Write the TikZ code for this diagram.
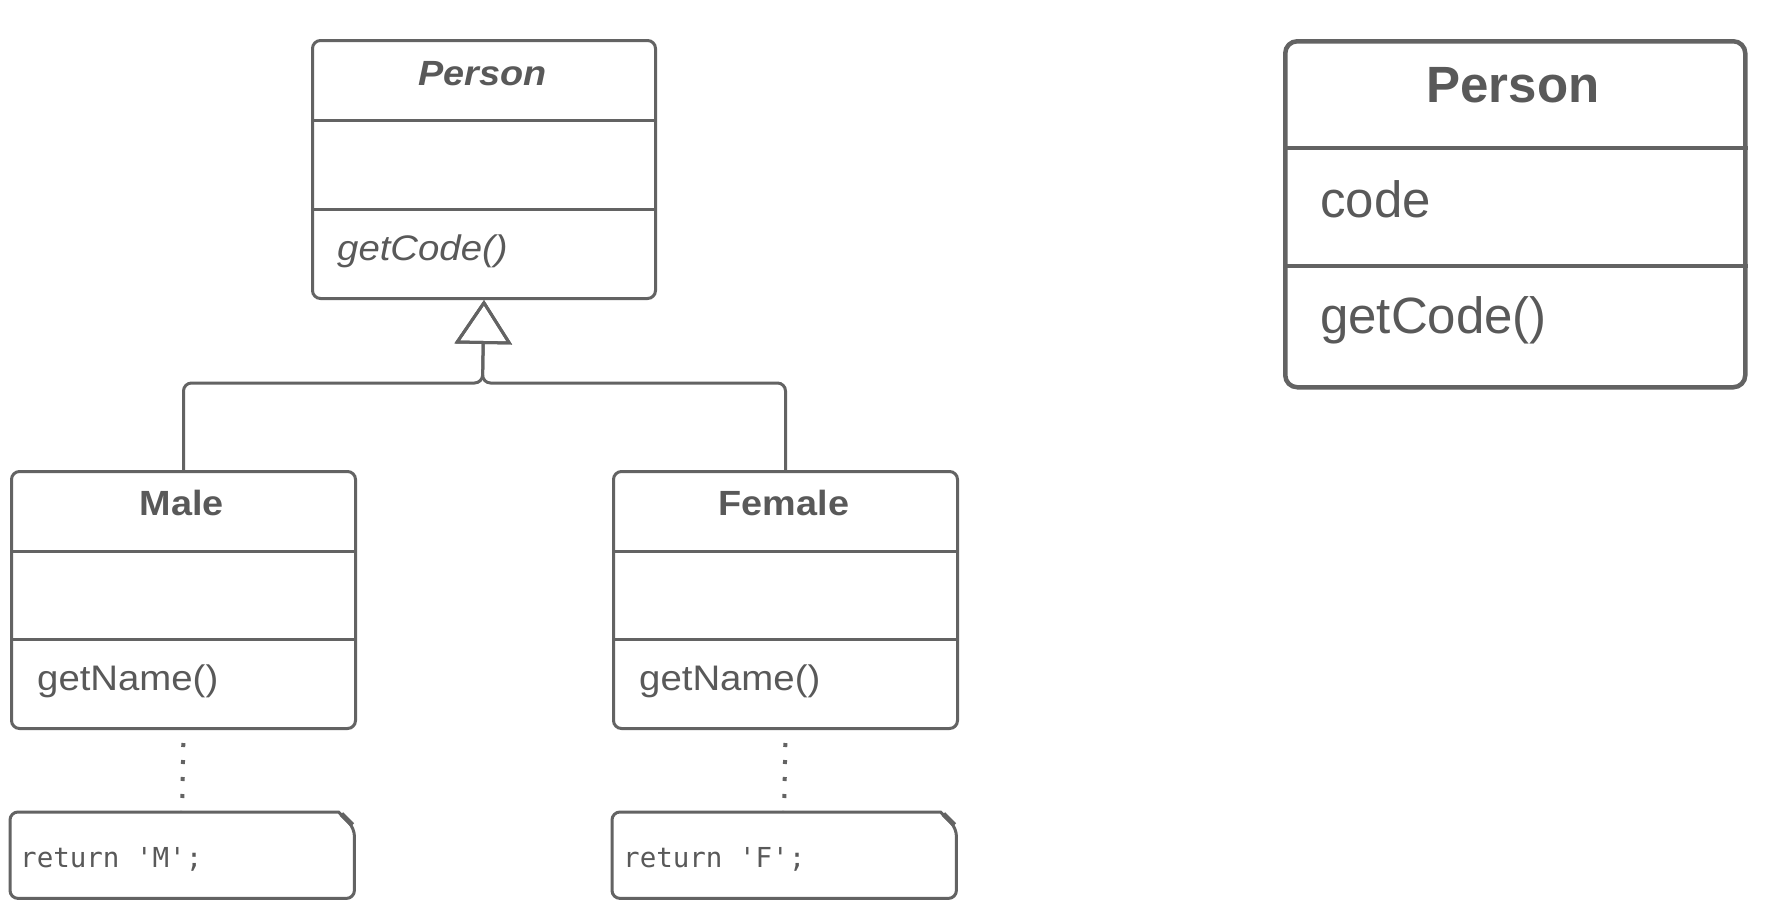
\documentclass[tikz,border=0pt]{standalone}
\usepackage{fontspec}
\setmainfont{Liberation Sans}
\newfontfamily\leftfont[FakeStretch=1.08]{Liberation Sans}
\setmonofont{DejaVu Sans Mono}
\usetikzlibrary{arrows.meta,calc}
\definecolor{lc}{RGB}{99,99,99}
\definecolor{tc}{RGB}{89,89,89}
\begin{document}
\begin{tikzpicture}[x=1pt,y=-1pt,
  classbox/.style={draw=lc, line width=3pt, rounded corners=8pt, inner sep=0pt, anchor=north west, fill=white},
  bigbox/.style={classbox, line width=4.5pt, rounded corners=12pt},
  div/.style={draw=lc, line width=3pt},
  bigdiv/.style={draw=lc, line width=4.5pt},
  titletext/.style={text=tc, anchor=base, inner sep=0pt, font=\leftfont\fontsize{35}{40}\selectfont\bfseries},
  methtext/.style={text=tc, anchor=base west, inner sep=0pt, font=\leftfont\fontsize{35.5}{42}\selectfont},
  bigtitle/.style={text=tc, anchor=base, inner sep=0pt, font=\fontsize{51}{60}\selectfont\bfseries},
  bigtext/.style={text=tc, anchor=base west, inner sep=0pt, font=\fontsize{51}{60}\selectfont},
  codetext/.style={text=tc, anchor=base west, inner sep=0pt, font=\fontsize{27.5}{30}\selectfont\ttfamily},
  notebox/.style={draw=none, inner sep=0pt, anchor=north west, minimum width=344pt, minimum height=86pt},
  noteline/.style={draw=lc, line width=3pt, rounded corners=8pt},
  gen/.style={draw=lc, line width=3pt, rounded corners=8pt, -{Triangle[open, length=44pt, width=57pt]}},
  dotl/.style={draw=lc, line width=4pt, dash pattern=on 4pt off 13pt, dash phase=4pt}
]
\fill[white] (0,0) rectangle (1772,918);
\useasboundingbox (0,0) rectangle (1772,918);

% abstract Person
\node[classbox, minimum width=343pt, minimum height=258pt] (person) at (311,39) {};
\draw[div] (person.west |- 0,120) -- (person.east |- 0,120);
\draw[div] (person.west |- 0,209) -- (person.east |- 0,209);
\node[titletext, font=\leftfont\fontsize{35}{40}\selectfont\bfseries\itshape] (ptitle) at (482.5,85) {Person};
\node[methtext, font=\leftfont\fontsize{35.5}{42}\selectfont\itshape] (pmeth) at (337,260) {getCode()};

% Male
\node[classbox, minimum width=344pt, minimum height=257pt] (male) at (10,470) {};
\draw[div] (male.west |- 0,551) -- (male.east |- 0,551);
\draw[div] (male.west |- 0,639) -- (male.east |- 0,639);
\node[titletext] (mtitle) at (182,515) {Male};
\node[methtext] (mmeth) at (37,690) {getName()};

% Female
\node[classbox, minimum width=344pt, minimum height=257pt] (female) at (612,470) {};
\draw[div] (female.west |- 0,551) -- (female.east |- 0,551);
\draw[div] (female.west |- 0,639) -- (female.east |- 0,639);
\node[titletext] (ftitle) at (784,515) {Female};
\node[methtext] (fmeth) at (639,690) {getName()};

% generalization
\coordinate (jn) at (482.5,383);
\draw[gen] (male.north) -- (male.north |- jn) -- (jn) -- (person.south);
\draw[gen] (female.north) -- (female.north |- jn) -- (jn) -- (person.south);

% notes
\node[notebox] (mnote) at (10,812) {};
\draw[noteline] ($(mnote.north east)+(-16,0)$) -- (mnote.north west) -- (mnote.south west) -- (mnote.south east) -- ($(mnote.north east)+(0,16)$) [sharp corners] -- cycle;
\draw[lc, line width=5pt] ($(mnote.north east)+(-13,2)$) -- ($(mnote.north east)+(-2,13)$);
\node[codetext] (mcode) at (20,867) {return 'M';};

\node[notebox] (fnote) at (612,812) {};
\draw[noteline] ($(fnote.north east)+(-16,0)$) -- (fnote.north west) -- (fnote.south west) -- (fnote.south east) -- ($(fnote.north east)+(0,16)$) [sharp corners] -- cycle;
\draw[lc, line width=5pt] ($(fnote.north east)+(-13,2)$) -- ($(fnote.north east)+(-2,13)$);
\node[codetext] (fcode) at (623,867) {return 'F';};

\draw[dotl] (male.south) -- (mnote.north);
\draw[dotl] (female.south) -- (fnote.north);

% concrete Person
\node[bigbox, minimum width=460pt, minimum height=346pt] (person2) at (1283,39) {};
\draw[bigdiv] (person2.west |- 0,148) -- (person2.east |- 0,148);
\draw[bigdiv] (person2.west |- 0,266) -- (person2.east |- 0,266);
\node[bigtitle] (p2title) at (1513,102) {Person};
\node[bigtext] (p2attr) at (1320,217) {code};
\node[bigtext] (p2meth) at (1320,333) {getCode()};
\end{tikzpicture}
\end{document}
